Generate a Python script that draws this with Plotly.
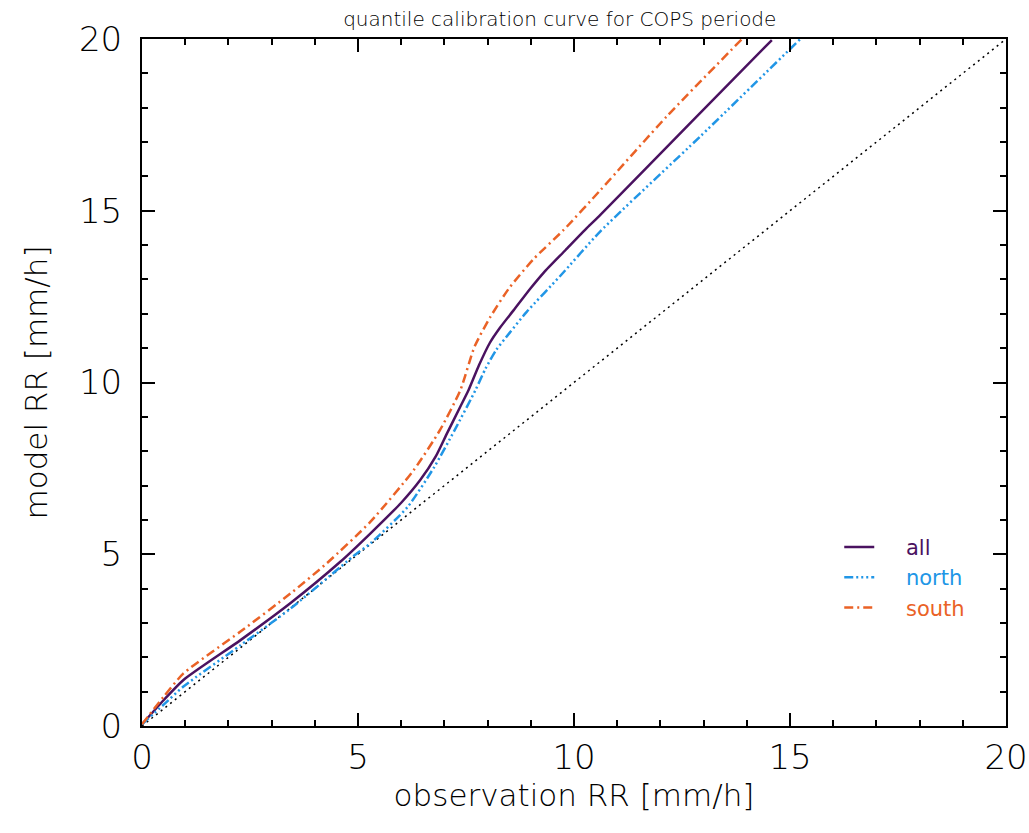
import plotly.graph_objects as go

# observation RR (x) and model RR (y) quantile pairs
all_x = [0.0, 0.5, 0.96, 2.28, 3.44, 4.59, 5.29, 6.0, 6.44, 6.8, 7.06, 7.37, 7.56, 7.8, 8.05, 8.29, 8.6, 9.0, 9.3, 9.8, 10.3, 10.61, 12.69, 14.58]
all_y = [0.05, 0.75, 1.34, 2.5, 3.58, 4.78, 5.61, 6.5, 7.16, 7.85, 8.52, 9.3, 9.78, 10.5, 11.15, 11.6, 12.1, 12.75, 13.2, 13.85, 14.5, 14.88, 17.55, 19.97]

north_x = [0.0, 0.5, 0.96, 2.28, 3.44, 4.9, 5.29, 6.15, 6.77, 7.24, 7.72, 7.95, 8.2, 8.5, 8.9, 9.68, 10.61, 12.92, 15.24]
north_y = [0.05, 0.62, 1.15, 2.35, 3.42, 4.95, 5.32, 6.38, 7.55, 8.62, 9.78, 10.4, 10.95, 11.43, 12.05, 13.1, 14.4, 17.16, 20.0]

south_x = [0.0, 0.5, 0.96, 2.28, 3.44, 4.28, 5.29, 6.29, 6.9, 7.37, 7.7, 8.06, 8.5, 9.07, 9.76, 10.61, 12.15, 13.89]
south_y = [0.05, 0.85, 1.53, 2.75, 3.86, 4.74, 5.95, 7.45, 8.62, 9.78, 11.05, 11.9, 12.75, 13.6, 14.44, 15.6, 17.75, 20.0]

diag = [0, 20]

tick_vals = [0, 5, 10, 15, 20]
tick_text = ["0", "5", "10", "15", "20"]

c_all = "#4a1260"
c_north = "#2196e6"
c_south = "#ea6226"

FONT = "DejaVu Sans ExtraLight, DejaVu Sans Light, DejaVu Sans"
TEXT_W = 200
PAD = "\u00a0\u00a0\u00a0\u00a0"

fig = go.Figure()
fig.add_trace(go.Scatter(x=diag, y=diag, mode="lines", showlegend=False,
                         line=dict(color="black", width=1.5, dash="2px,4px")))
fig.add_trace(go.Scatter(x=all_x, y=all_y, mode="lines",
                         name=f'<span style="color:{c_all}">{PAD}all</span>',
                         line=dict(color=c_all, width=2.5, shape="spline", smoothing=0.6)))
fig.add_trace(go.Scatter(x=north_x, y=north_y, mode="lines",
                         name=f'<span style="color:{c_north}">{PAD}north</span>',
                         line=dict(color=c_north, width=2.5, shape="spline", smoothing=0.6,
                                   dash="9px,3px,2px,3px,2px,3px,2px,3px")))
fig.add_trace(go.Scatter(x=south_x, y=south_y, mode="lines",
                         name=f'<span style="color:{c_south}">{PAD}south</span>',
                         line=dict(color=c_south, width=2.5, shape="spline", smoothing=0.6,
                                   dash="9px,4px,2px,4px")))

axis_common = dict(
    range=[0, 20], tickvals=tick_vals, ticktext=tick_text, automargin=False,
    ticks="inside", ticklen=13, tickwidth=2, tickcolor="black",
    showline=True, linecolor="black", linewidth=2, mirror="ticks",
    showgrid=False, zeroline=False,
    tickfont=dict(family=FONT, size=34, color="black", weight=TEXT_W),
    minor=dict(dtick=1, ticks="inside", ticklen=6, tickwidth=2, tickcolor="black", showgrid=False),
)

fig.update_layout(
    width=1029, height=833,
    margin=dict(l=142, r=23, t=39, b=107),
    paper_bgcolor="white", plot_bgcolor="white",
    title=dict(text="quantile calibration curve for COPS periode",
               x=0.544, xanchor="center", y=0.977, yanchor="middle",
               font=dict(family=FONT, size=20, color="black", weight=TEXT_W)),
    xaxis=dict(**axis_common,
               title=dict(text="observation RR [mm/h]", standoff=5,
                          font=dict(family=FONT, size=31, color="black", weight=TEXT_W))),
    yaxis=dict(**axis_common, ticklabelstandoff=11,
               title=dict(text="model RR [mm/h]", standoff=22,
                          font=dict(family=FONT, size=31, color="black", weight=TEXT_W))),
    legend=dict(x=0.807, y=0.29, xanchor="left", yanchor="top",
                bgcolor="rgba(0,0,0,0)", font=dict(family="DejaVu Sans", size=21),
                tracegroupgap=0, itemwidth=30),
)

# remove the default page margin so the figure fills the 1029x833 window exactly
fig.write_html("out.html",
               config={"displayModeBar": False},
               post_script="document.body.style.margin='0';document.body.style.overflow='hidden';")
